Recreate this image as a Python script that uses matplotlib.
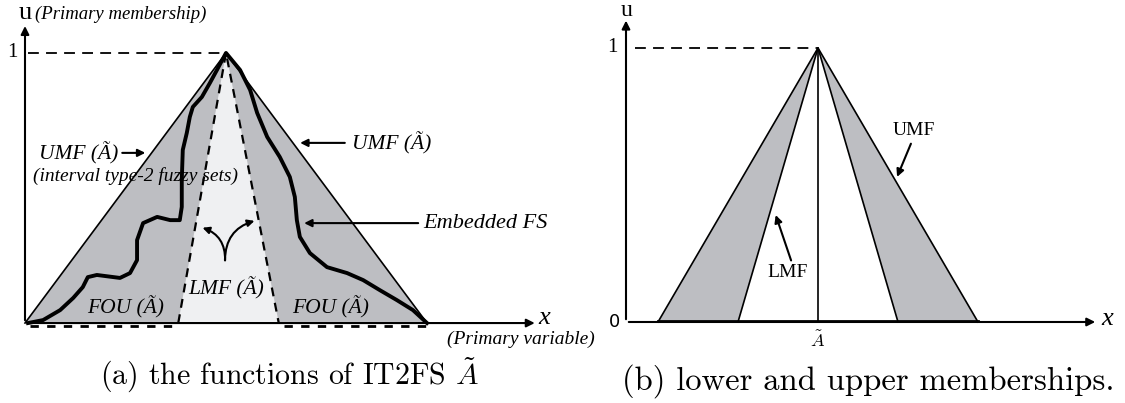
import matplotlib
matplotlib.use("Agg")
import matplotlib.pyplot as plt
import numpy as np

plt.rcParams['mathtext.fontset'] = 'cm'

# panel (a): upper / lower membership functions (x in primary-variable units, u in [0, 1])
umf_a_x = [0.0, 4.0, 8.0]
umf_a_u = [0.0, 1.0, 0.0]
lmf_a_x = [3.05, 4.0, 5.05]
lmf_a_u = [0.0, 1.0, 0.0]

# embedded fuzzy set
emb_x = [0.06, 0.36, 0.70, 0.96, 1.15, 1.25, 1.43, 1.89, 2.09, 2.23, 2.23, 2.35, 2.63,
         2.89, 3.08, 3.12, 3.12, 3.14, 3.22, 3.28, 3.34, 3.52, 3.68, 3.82, 3.98, 4.0,
         4.28, 4.48, 4.62, 4.82, 5.07, 5.27, 5.37, 5.41, 5.47, 5.67, 6.01, 6.41, 6.73,
         7.06, 7.40, 7.72, 8.0]
emb_u = [0.0, 0.011, 0.048, 0.093, 0.133, 0.170, 0.178, 0.167, 0.185, 0.233, 0.307, 0.370, 0.393,
         0.381, 0.381, 0.430, 0.530, 0.641, 0.704, 0.763, 0.800, 0.837, 0.889, 0.937, 0.993, 1.0,
         0.937, 0.863, 0.778, 0.689, 0.615, 0.541, 0.467, 0.381, 0.319, 0.259, 0.207, 0.185, 0.159,
         0.122, 0.085, 0.048, 0.0]

# panel (b): upper / lower membership functions
umf_b_x = [0.8, 4.8, 8.8]
lmf_b_x = [2.8, 4.8, 6.8]
mf_b_u = [0.0, 1.0, 0.0]
peak_b = 4.8

GRAY = '#bdbec2'
LIGHT = '#eff0f2'
ITAL = dict(family='Liberation Serif', style='italic')
DASH = (0, (6, 4))

fig = plt.figure(figsize=(11.25, 4.03), dpi=100)

# ---------- panel (a) ----------
ax = fig.add_axes([0, 0, 600 / 1125, 1])
ax.set_xlim(-0.4975, 11.443)
ax.set_ylim(-0.296, 1.196)
ax.axis('off')

ax.fill(umf_a_x, umf_a_u, color=GRAY, lw=0, zorder=1)
ax.fill(lmf_a_x, lmf_a_u, color=LIGHT, lw=0, zorder=2)
ax.plot(umf_a_x, umf_a_u, color='black', lw=1.2, zorder=3)
ax.plot(lmf_a_x, lmf_a_u, color='black', lw=1.6, ls=(0, (4, 3)), zorder=3)
ax.plot(emb_x, emb_u, color='black', lw=2.8, solid_joinstyle='round', zorder=4)

# axes with arrows
ax.annotate('', xy=(10.2, 0), xytext=(0, 0),
            arrowprops=dict(arrowstyle='-|>', color='black', lw=1.5, mutation_scale=12), zorder=5)
ax.annotate('', xy=(0, 1.11), xytext=(0, 0),
            arrowprops=dict(arrowstyle='-|>', color='black', lw=1.5, mutation_scale=12), zorder=5)
ax.plot([0.05, 4.0], [1, 1], color='black', lw=1.3, ls=DASH)
ax.plot([0.1, 3.0], [-0.011, -0.011], color='black', lw=2, ls=(0, (3, 3)))
ax.plot([5.15, 8.0], [-0.011, -0.011], color='black', lw=2, ls=(0, (3, 3)))

ax.text(-0.15, 1.0, '1', ha='right', va='center', family='Liberation Serif', fontsize=15)
ax.text(0.0, 1.126, 'u', ha='center', va='baseline', family='Liberation Serif', fontsize=19)
ax.text(0.2, 1.126, '(Primary membership)', ha='left', va='baseline', fontsize=13.5, **ITAL)
ax.text(10.22, -0.005, 'x', ha='left', va='baseline', fontsize=19, **ITAL)
ax.text(11.34, -0.062, '(Primary variable)', ha='right', va='center', fontsize=14, **ITAL)

arrow = dict(arrowstyle='-|>', color='black', lw=1.5, mutation_scale=11)
ax.text(1.85, 0.63, 'UMF (Ã)', ha='right', va='center', fontsize=15.5, **ITAL)
ax.annotate('', xy=(2.45, 0.63), xytext=(1.88, 0.63), arrowprops=arrow)
ax.text(0.16, 0.544, '(interval type-2 fuzzy sets)', ha='left', va='center', fontsize=14, **ITAL)
ax.text(6.5, 0.667, 'UMF (Ã)', ha='left', va='center', fontsize=15.5, **ITAL)
ax.annotate('', xy=(5.42, 0.667), xytext=(6.42, 0.667), arrowprops=arrow)
ax.text(7.92, 0.37, 'Embedded FS', ha='left', va='center', fontsize=16, **ITAL)
ax.annotate('', xy=(5.5, 0.37), xytext=(7.88, 0.37), arrowprops=arrow)
ax.text(3.25, 0.13, 'LMF (Ã)', ha='left', va='center', fontsize=15.5, **ITAL)
ax.text(1.23, 0.059, 'FOU (Ã)', ha='left', va='center', fontsize=15.5, **ITAL)
ax.text(5.31, 0.059, 'FOU (Ã)', ha='left', va='center', fontsize=15.5, **ITAL)

# curved double arrow inside the LMF
ax.annotate('', xy=(3.48, 0.356), xytext=(3.98, 0.222),
            arrowprops=dict(arrowstyle='-|>', color='black', lw=1.5, mutation_scale=10,
                            connectionstyle='arc3,rad=0.4'))
ax.annotate('', xy=(4.62, 0.381), xytext=(3.98, 0.222),
            arrowprops=dict(arrowstyle='-|>', color='black', lw=1.5, mutation_scale=10,
                            connectionstyle='arc3,rad=-0.4'))

fig.text(289 / 1125, 1 - 375 / 403, r'(a) the functions of IT2FS $\tilde{A}$',
         ha='center', va='center', family='cmr10', fontsize=21.5)

# ---------- panel (b) ----------
bx = fig.add_axes([600 / 1125, 0, 525 / 1125, 1])
bx.set_xlim(-0.65, 12.475)
bx.set_ylim(-0.2956, 1.175)
bx.axis('off')

bx.fill([umf_b_x[0], umf_b_x[1], lmf_b_x[0]], [0, 1, 0], color=GRAY, lw=0, zorder=1)
bx.fill([lmf_b_x[2], umf_b_x[1], umf_b_x[2]], [0, 1, 0], color=GRAY, lw=0, zorder=1)
bx.plot(umf_b_x, mf_b_u, color='black', lw=1.2, zorder=3)
bx.plot(lmf_b_x, mf_b_u, color='black', lw=1.2, zorder=3)
bx.plot([peak_b, peak_b], [0, 1], color='black', lw=1.2, zorder=3)
bx.plot([umf_b_x[0], umf_b_x[2]], [0.004, 0.004], color='black', lw=2, zorder=3)

bx.annotate('', xy=(11.8, 0), xytext=(0, 0),
            arrowprops=dict(arrowstyle='-|>', color='black', lw=1.5, mutation_scale=12), zorder=5)
bx.annotate('', xy=(0, 1.11), xytext=(0, 0),
            arrowprops=dict(arrowstyle='-|>', color='black', lw=1.5, mutation_scale=12), zorder=5)
bx.plot([0.22, peak_b], [1, 1], color='black', lw=1.3, ls=DASH)

bx.text(-0.2, 1.0, '1', ha='right', va='center', family='Liberation Serif', fontsize=15)
bx.text(-0.15, 0.0, '0', ha='right', va='center', family='DejaVu Sans', fontsize=13)
bx.text(0.02, 1.118, 'u', ha='center', va='baseline', family='Liberation Serif', fontsize=17)
bx.text(11.88, -0.012, 'x', ha='left', va='baseline', fontsize=19, **ITAL)
bx.text(peak_b, -0.07, r'$\tilde{A}$', ha='center', va='center', fontsize=13)

bx.text(4.05, 0.18, 'LMF', ha='center', va='center', family='Liberation Serif', fontsize=14)
bx.annotate('', xy=(3.72, 0.40), xytext=(4.15, 0.215), arrowprops=arrow)
bx.text(7.2, 0.70, 'UMF', ha='center', va='center', family='Liberation Serif', fontsize=14)
bx.annotate('', xy=(6.75, 0.52), xytext=(7.15, 0.66), arrowprops=arrow)

fig.text(868 / 1125, 1 - 381 / 403, '(b) lower and upper memberships.',
         ha='center', va='center', family='cmr10', fontsize=23.5)

fig.savefig('out.png', dpi=100)
